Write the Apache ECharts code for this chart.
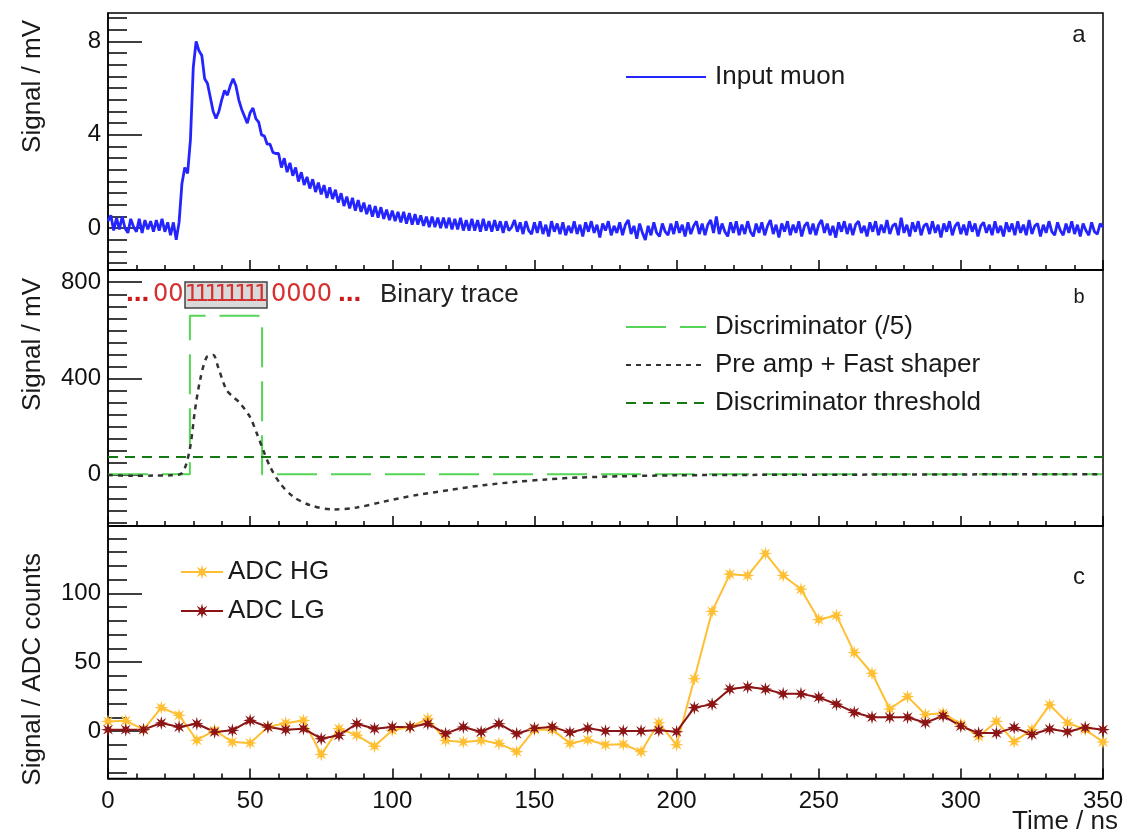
<!DOCTYPE html>
<html>
<head>
<meta charset="utf-8">
<script src="https://cdn.jsdelivr.net/npm/echarts@6/dist/echarts.min.js"></script>
<style>html,body{margin:0;padding:0;background:#fff}#chart{width:1128px;height:834px}</style>
</head>
<body>
<div id="chart"></div>
<script>
// ---------- data ----------
const muonStart = 0, muonStep = 1; // ns
const muonSignal = [
0.3,0.55,-0.1,0.45,-0.05,0.5,0.0,-0.2,0.4,0.05,
-0.15,0.4,-0.2,0.35,-0.05,0.3,-0.15,0.35,-0.1,0.4,
-0.15,0.25,-0.3,0.25,-0.5,0.25,1.9,2.6,2.35,3.8,
6.9,8.0,7.6,7.4,6.4,6.2,5.6,5.0,4.7,5.0,
5.5,5.9,5.7,6.1,6.4,6.1,5.5,5.1,4.8,4.5,
4.95,5.15,4.7,4.55,4.0,3.95,3.6,3.6,3.25,3.2,
3.2,2.6,3.0,2.4,2.8,2.25,2.6,2.0,2.4,1.85,
2.2,1.7,2.1,1.55,1.95,1.45,1.85,1.3,1.75,1.25,
1.65,1.1,1.5,0.95,1.35,0.85,1.3,0.75,1.2,0.7,
1.1,0.6,1.0,0.5,0.95,0.45,0.9,0.4,0.8,0.35,
0.75,0.3,0.7,0.25,0.7,0.2,0.65,0.15,0.6,0.15,
0.55,0.1,0.5,0.05,0.5,0.05,0.45,0.0,0.45,0.0,
0.45,-0.05,0.4,-0.05,0.45,-0.1,0.35,-0.1,0.4,-0.1,
0.35,-0.15,0.4,-0.1,0.3,-0.15,0.35,-0.1,0.3,-0.2,
0.3,-0.1,0.05,0.35,-0.15,0.25,-0.25,0.3,-0.1,-0.25,
0.25,-0.2,0.3,-0.25,0.15,-0.35,0.3,-0.15,0.2,-0.25,
0.25,-0.3,0.1,-0.2,0.3,-0.25,0.15,-0.35,0.25,-0.15,
0.3,-0.2,0.15,-0.4,0.2,-0.1,0.3,-0.3,0.1,-0.2,
0.25,-0.3,0.15,0.35,-0.25,0.1,-0.45,0.2,-0.2,-0.5,
0.1,-0.3,0.25,-0.2,-0.35,0.2,-0.15,-0.3,0.2,-0.25,
0.3,-0.2,0.15,-0.35,0.25,-0.25,0.1,0.3,-0.25,0.2,
-0.3,0.15,0.35,-0.2,0.5,-0.25,0.2,-0.15,-0.35,0.25,
-0.2,0.3,-0.3,0.15,-0.25,0.3,-0.15,-0.35,0.2,-0.2,
0.25,-0.3,0.1,0.35,-0.25,0.15,-0.4,0.2,-0.15,0.3,
-0.3,0.15,-0.2,0.3,-0.35,0.1,0.25,-0.25,0.2,-0.3,
0.15,0.35,-0.2,0.2,-0.3,0.1,-0.4,0.25,-0.15,0.3,
-0.25,0.2,-0.3,0.15,0.3,-0.2,0.1,-0.35,0.25,-0.15,
0.3,-0.3,0.15,-0.2,0.35,-0.25,0.1,0.2,-0.3,0.45,
-0.2,0.15,-0.35,0.25,-0.15,0.3,-0.3,0.1,0.2,-0.25,
0.3,-0.2,0.15,-0.4,0.2,-0.15,0.3,-0.3,0.1,0.25,
-0.25,0.15,-0.3,0.3,-0.15,0.2,-0.35,0.1,0.25,-0.2,
0.15,-0.3,0.3,-0.2,0.1,-0.35,0.25,-0.15,0.2,-0.3,
0.3,-0.2,0.15,-0.3,0.35,-0.25,0.1,0.2,-0.35,0.15,
-0.2,0.3,-0.15,-0.3,0.25,-0.1,-0.3,0.2,-0.2,0.3,
-0.25,0.15,-0.35,0.2,-0.1,-0.3,0.25,-0.15,-0.25,0.2,
0.05
];

const shaperTime   = [0, 8, 16, 22, 26, 28.7, 30.6, 32.4, 34.7, 37, 38.7, 41.7, 44.5, 46.4, 49.9, 52.3, 54.6, 57, 60.5, 65.2, 71, 79.2, 87.5, 96.8, 108.6, 120.3, 132, 143.7, 154.2, 166, 180, 200, 230, 270, 310, 350];
const shaperSignal = [-3, -6, -5, -4, 5, 100, 268, 393, 488, 497, 448, 351, 318, 297, 240, 172, 101, 32, -37, -93, -128, -146, -138, -114, -86, -65, -45, -31, -21, -13, -8, -4, -2, -1, 0, 0];

const discTime   = [0, 28.8, 28.8, 54.2, 54.2, 350];
const discSignal = [0, 0, 660, 660, 0, 0];

const thresholdTime   = [0, 350];
const thresholdSignal = [72, 72];

const adcPeriod = 6.25; // ns
const adcHG = [7, 7.5, 1, 17, 11.5, -6.7, 0.5, -8, -8.7, 2.9, 5.8, 7.7, -17, 1.7, -3, -11, 0.5, 2.9, 8.9, -6.8, -8, -6.8, -9, -15, 1, 1, -9, -6.4, -10, -9.6, -15, 6, -10, 38, 87, 114, 113, 129, 113, 103, 81, 84, 57, 42, 16, 25, 12, 13, 5, -4, 7, -7.7, 1, 19, 6, 1, -8];
const adcLG = [1, 1, 1, 5.8, 2.9, 5.3, -0.7, 0.5, 7.7, 2.9, 1, 1.7, -5.6, -3.1, 5.3, 1.7, 2.9, 2.9, 5.3, -1.9, 2.9, -0.7, 5.3, -2, 2, 3, -1, 2, 0, 0, 0, 0.5, -0.5, 17, 19.5, 30.5, 32, 30.5, 27, 27, 24.5, 19.5, 13.5, 10, 10, 10, 6, 11, 3.5, -1.5, -1.5, 2.5, -2.5, 1.5, -0.5, 2.5, 1];

const binaryLead = '00', binaryHigh = '11111111', binaryTail = '0000';

const aTicks = [0, 4, 8], aMinorStep = 0.5, aRange = [-1.79, 9.22];
const bTicks = [0, 400, 800], bMinorStep = 50, bRange = [-215, 851];
const cTicks = [0, 50, 100], cMinorStep = 10, cRange = [-34.5, 149];
const timeRange = [0, 350], timeMajor = 50;

// ---------- helpers ----------
const FONT = 'Liberation Sans, Arial, Helvetica, sans-serif';
function minorList(range, step, majors) {
  const out = [];
  const start = Math.ceil(range[0] / step) * step;
  for (let v = start; v <= range[1] + 1e-9; v += step) {
    const r = Math.round(v * 1000) / 1000;
    if (!majors.some(m => Math.abs(m - r) < 1e-6)) out.push(r);
  }
  return out;
}
function starPath(n, ro, ri) {
  let d = '';
  for (let k = 0; k < 2 * n; k++) {
    const a = -Math.PI / 2 + k * Math.PI / n;
    const r = k % 2 ? ri : ro;
    const x = (50 + 50 * r * Math.cos(a)).toFixed(2), y = (50 + 50 * r * Math.sin(a)).toFixed(2);
    d += (k ? 'L' : 'M') + x + ' ' + y + ' ';
  }
  return 'path://' + d + 'Z';
}
const STAR = starPath(8, 1, 0.4);

const gridDefs = [
  { left: 108, right: 25, top: 13, height: 257 },
  { left: 108, right: 25, top: 270, height: 256 },
  { left: 108, right: 25, top: 526, height: 252.5 }
];
const grids = gridDefs.map(g => Object.assign({ show: true, borderColor: '#000', borderWidth: 1.5, backgroundColor: 'transparent' }, g));

const xAxes = [0, 1, 2].map(i => ({
  type: 'value', gridIndex: i, min: timeRange[0], max: timeRange[1], interval: timeMajor,
  axisLine: { show: true, onZero: false, lineStyle: { color: '#000', width: 1.5 } },
  axisTick: { show: true, inside: true, length: 10, lineStyle: { color: '#000', width: 1.5 } },
  minorTick: { show: true, splitNumber: 5, length: 5, lineStyle: { color: '#000', width: 1.5 } },
  axisLabel: { show: i === 2, fontSize: 24, margin: 11, color: '#111', fontFamily: FONT },
  splitLine: { show: false }, minorSplitLine: { show: false }
}));

const yCfg = [[aTicks, aMinorStep, aRange], [bTicks, bMinorStep, bRange], [cTicks, cMinorStep, cRange]];
const yAxes = [];
yCfg.forEach((c, i) => {
  const [ticks, step, range] = c;
  yAxes.push({
    type: 'value', gridIndex: i, position: 'left', min: range[0], max: range[1],
    axisLine: { show: true, onZero: false, lineStyle: { color: '#000', width: 1.5 } },
    axisTick: { show: true, inside: true, length: 34, customValues: ticks, lineStyle: { color: '#000', width: 1.5 } },
    axisLabel: { show: true, customValues: ticks, fontSize: 24, margin: 7, color: '#111', fontFamily: FONT },
    splitLine: { show: false }
  });
  yAxes.push({
    type: 'value', gridIndex: i, position: 'left', min: range[0], max: range[1],
    axisLine: { show: false, onZero: false },
    axisTick: { show: true, inside: true, length: 19, customValues: minorList(range, step, ticks), lineStyle: { color: '#000', width: 1.5 } },
    axisLabel: { show: false },
    splitLine: { show: false }
  });
});

const pair = (xs, ys) => ys.map((v, k) => [xs[k], v]);
const muonData = muonSignal.map((v, k) => [muonStart + k * muonStep, v]);
const adcTime = adcHG.map((_, k) => k * adcPeriod);

const series = [
  { name: 'Input muon', type: 'line', xAxisIndex: 0, yAxisIndex: 0, data: muonData, symbol: 'none',
    lineStyle: { color: '#2424ff', width: 2.8 }, itemStyle: { color: '#2424ff' }, silent: true },
  { name: 'Discriminator (/5)', type: 'line', xAxisIndex: 1, yAxisIndex: 2, data: pair(discTime, discSignal), symbol: 'none',
    lineStyle: { color: '#55d455', width: 2, type: [40, 14] }, itemStyle: { color: '#55d455' } },
  { name: 'Pre amp + Fast shaper', type: 'line', xAxisIndex: 1, yAxisIndex: 2, data: pair(shaperTime, shaperSignal), symbol: 'none', smooth: 0.3,
    lineStyle: { color: '#333', width: 2.5, type: [5, 5] }, itemStyle: { color: '#333' } },
  { name: 'Discriminator threshold', type: 'line', xAxisIndex: 1, yAxisIndex: 2, data: pair(thresholdTime, thresholdSignal), symbol: 'none',
    lineStyle: { color: '#137a13', width: 2, type: [10, 7] }, itemStyle: { color: '#137a13' } },
  { name: 'ADC HG', type: 'line', xAxisIndex: 2, yAxisIndex: 4, data: pair(adcTime, adcHG), symbol: STAR, symbolSize: 14, showSymbol: true,
    lineStyle: { color: '#ffbf33', width: 2 }, itemStyle: { color: '#ffbf33' } },
  { name: 'ADC LG', type: 'line', xAxisIndex: 2, yAxisIndex: 4, data: pair(adcTime, adcLG), symbol: STAR, symbolSize: 14, showSymbol: true,
    lineStyle: { color: '#8c1414', width: 2 }, itemStyle: { color: '#8c1414' } }
];

const legendText = { fontSize: 26, color: '#1a1a1a', fontFamily: FONT, padding: [0, 0, 0, 4] };
const legends = [
  { data: ['Input muon'], left: 620, top: 59, orient: 'vertical', itemWidth: 80, itemHeight: 14,
    itemStyle: { opacity: 0 }, lineStyle: { width: 2 }, textStyle: legendText, selectedMode: false },
  { data: ['Discriminator (/5)', 'Pre amp + Fast shaper', 'Discriminator threshold'], left: 620, top: 309, orient: 'vertical',
    itemWidth: 80, itemHeight: 14, itemGap: 12, itemStyle: { opacity: 0 }, textStyle: legendText, selectedMode: false },
  { data: ['ADC HG', 'ADC LG'], left: 175, top: 554, orient: 'vertical', itemWidth: 42, itemHeight: 19, itemGap: 13,
    textStyle: Object.assign({}, legendText, { padding: [0, 0, 0, 0] }), selectedMode: false }
];

function txt(text, x, y, opts) {
  return Object.assign({ type: 'text', x: x, y: y, silent: true,
    style: Object.assign({ text: text, fill: '#1a1a1a', font: '26px ' + FONT, align: 'left', verticalAlign: 'middle' }, opts.style || {}) },
    opts.rotation !== undefined ? { rotation: opts.rotation } : {});
}
const graphics = [
  txt('Signal / mV', 33, 20, { rotation: Math.PI / 2, style: { align: 'right' } }),
  txt('Signal / mV', 33, 278, { rotation: Math.PI / 2, style: { align: 'right' } }),
  txt('Signal / ADC counts', 33, 553, { rotation: Math.PI / 2, style: { align: 'right' } }),
  txt('Time / ns', 1118, 822, { style: { align: 'right' } }),
  txt('a', 1079, 35, { style: { align: 'center', font: '24px ' + FONT } }),
  txt('b', 1079, 297, { style: { align: 'center', font: '20px ' + FONT } }),
  txt('c', 1079, 577, { style: { align: 'center', font: '24px ' + FONT } }),
  // binary trace
  txt('...', 126, 293, { style: { fill: '#cc1a1a', font: 'bold 28px ' + FONT } }),
  txt(binaryLead, 153, 295, { style: { fill: '#d63030', font: '24px DejaVu Sans' } }),
  { type: 'rect', silent: true, shape: { x: 185, y: 282, width: 82, height: 26 }, style: { fill: '#d9d9d9', stroke: '#444', lineWidth: 1.5 } },
  txt(binaryTail, 271, 295, { style: { fill: '#d63030', font: '24px DejaVu Sans' } }),
  txt('...', 338, 293, { style: { fill: '#cc1a1a', font: 'bold 28px ' + FONT } }),
  txt('Binary trace', 380, 295, { style: { fill: '#222' } })
];
binaryHigh.split('').forEach((ch, k) => {
  graphics.push(txt(ch, 192 + k * 9.9, 295, { style: { fill: '#d63030', font: '23px DejaVu Sans', align: 'center' } }));
});

const chart = echarts.init(document.getElementById('chart'), null, { renderer: 'canvas' });
chart.setOption({
  animation: false,
  backgroundColor: '#fff',
  grid: grids,
  xAxis: xAxes,
  yAxis: yAxes,
  legend: legends,
  series: series,
  graphic: graphics
});
</script>
</body>
</html>
